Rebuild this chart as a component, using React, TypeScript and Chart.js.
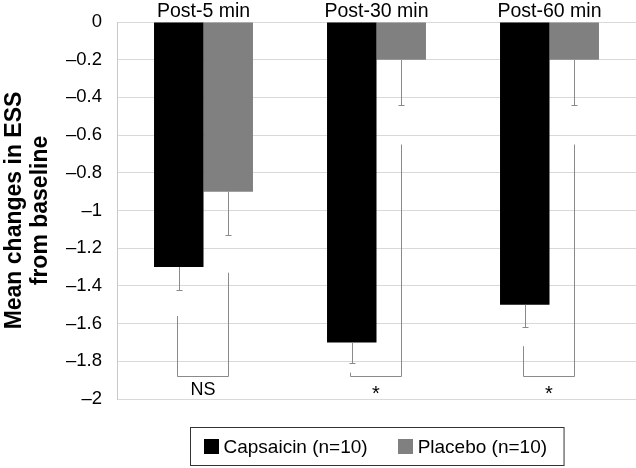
import React, { useEffect, useRef } from 'react';
import { Chart, registerables } from 'chart.js';

Chart.register(...registerables);

const categories = ['Post-5 min', 'Post-30 min', 'Post-60 min'];
const seriesNames = ['Capsaicin (n=10)', 'Placebo (n=10)'];
const seriesColors = ['#000000', '#808080'];
const capsaicinMeans = [-1.3, -1.7, -1.5];
const placeboMeans = [-0.9, -0.2, -0.2];
const capsaicinErrors = [0.12, 0.11, 0.12];
const placeboErrors = [0.23, 0.24, 0.24];
const bracketLeftTop = [-1.56, -1.86, -1.72];
const bracketRightTop = [-1.33, -0.65, -0.65];
const bracketBottom = [-1.88, -1.88, -1.88];
const bracketLabels = ['NS', '*', '*'];
const bracketLabelValues = [-1.955, -1.975, -1.975];
const yMin = -2;
const yMax = 0;
const yStep = 0.2;
const yTitle = ['Mean changes in ESS', 'from baseline'];

const FONT = "'Liberation Sans', Arial, sans-serif";

const formatTick = (v: number) => {
  const r = Math.round(v * 10) / 10;
  if (r === 0) return '0';
  return (r < 0 ? '\u2013' : '') + String(Math.abs(r));
};

const annotationPlugin = {
  id: 'annotations',
  afterDatasetsDraw(chart: any) {
    const ctx = chart.ctx;
    const ys = chart.scales.y;
    const metas = [chart.getDatasetMeta(0), chart.getDatasetMeta(1)];
    const means = [capsaicinMeans, placeboMeans];
    const errs = [capsaicinErrors, placeboErrors];
    ctx.save();
    ctx.strokeStyle = '#8a8a8a';
    ctx.lineWidth = 1;
    // error bars (downward)
    for (let d = 0; d < 2; d++) {
      for (let j = 0; j < categories.length; j++) {
        const x = Math.round(metas[d].data[j].x) + 0.5;
        const y1 = ys.getPixelForValue(means[d][j]);
        const y2 = Math.round(ys.getPixelForValue(means[d][j] - errs[d][j])) + 0.5;
        ctx.beginPath();
        ctx.moveTo(x, y1);
        ctx.lineTo(x, y2);
        ctx.moveTo(x - 3, y2);
        ctx.lineTo(x + 3, y2);
        ctx.stroke();
      }
    }
    // significance brackets
    for (let j = 0; j < categories.length; j++) {
      const xl = Math.round(metas[0].data[j].x) - 1.5;
      const xr = Math.round(metas[1].data[j].x) + 0.5;
      const yb = Math.round(ys.getPixelForValue(bracketBottom[j])) + 0.5;
      ctx.beginPath();
      ctx.moveTo(xl, ys.getPixelForValue(bracketLeftTop[j]));
      ctx.lineTo(xl, yb);
      ctx.lineTo(xr, yb);
      ctx.lineTo(xr, ys.getPixelForValue(bracketRightTop[j]));
      ctx.stroke();
      ctx.fillStyle = '#000';
      ctx.textAlign = 'center';
      ctx.textBaseline = 'middle';
      const isStar = bracketLabels[j] === '*';
      ctx.font = (isStar ? '20px ' : '18px ') + FONT;
      ctx.fillText(bracketLabels[j], (xl + xr) / 2, ys.getPixelForValue(bracketLabelValues[j]));
    }
    ctx.restore();
  },
  afterDraw(chart: any) {
    // legend
    const ctx = chart.ctx;
    const area = chart.chartArea;
    ctx.save();
    ctx.font = '19px ' + FONT;
    const pad = 13, box = 15, gap = 5, itemGap = 30;
    const widths = seriesNames.map((s) => ctx.measureText(s).width);
    const total = pad * 2 + widths.reduce((a, w) => a + box + gap + w, 0) + itemGap * (seriesNames.length - 1);
    const cx = (area.left + area.right) / 2;
    const left = Math.round(cx - total / 2) - 1.5;
    const top = Math.round(area.bottom) + 28.5;
    const h = 38;
    ctx.strokeStyle = '#333';
    ctx.lineWidth = 1;
    ctx.strokeRect(left, top, total + 4, h);
    let x = left + pad;
    const cy = top + h / 2;
    ctx.textAlign = 'left';
    ctx.textBaseline = 'middle';
    seriesNames.forEach((s, i) => {
      ctx.fillStyle = seriesColors[i];
      ctx.fillRect(Math.round(x), Math.round(cy - box / 2), box, box);
      x += box + gap;
      ctx.fillStyle = '#000';
      ctx.fillText(s, x, cy + 1);
      x += widths[i] + itemGap;
    });
    ctx.restore();
  },
};

export default function App() {
  const ref = useRef<HTMLCanvasElement | null>(null);
  useEffect(() => {
    document.body.style.margin = '0';
    const canvas = ref.current!;
    const chart = new Chart(canvas, {
      type: 'bar',
      data: {
        labels: categories,
        datasets: [
          {
            label: seriesNames[0],
            data: capsaicinMeans,
            backgroundColor: seriesColors[0],
            borderWidth: 0,
            categoryPercentage: 0.572,
            barPercentage: 1,
          },
          {
            label: seriesNames[1],
            data: placeboMeans,
            backgroundColor: seriesColors[1],
            borderWidth: 0,
            categoryPercentage: 0.572,
            barPercentage: 1,
          },
        ],
      },
      options: {
        responsive: false,
        animation: false,
        devicePixelRatio: 1,
        layout: { padding: 0 },
        plugins: {
          legend: { display: false },
          tooltip: { enabled: false },
        },
        scales: {
          x: {
            type: 'category',
            position: 'top',
            grid: { display: false, drawTicks: false },
            border: { display: false },
            ticks: {
              color: '#000',
              font: { family: FONT, size: 19.5 },
              padding: -1,
              maxRotation: 0,
            },
            afterFit: (s: any) => {
              s.height = 22;
            },
          },
          x2: {
            type: 'category',
            position: 'bottom',
            grid: { display: false, drawTicks: false },
            border: { display: false },
            ticks: { display: false },
            afterFit: (s: any) => {
              s.height = 69;
            },
          },
          y: {
            min: yMin,
            max: yMax,
            ticks: {
              stepSize: yStep,
              color: '#000',
              font: { family: FONT, size: 18.5 },
              padding: 15,
              callback: (v: any) => formatTick(Number(v)),
            },
            grid: { color: '#d9d9d9', drawTicks: false, lineWidth: 1 },
            border: { display: true, color: '#c8c8c8' },
            title: {
              display: true,
              text: yTitle,
              color: '#000',
              font: { family: FONT, size: 23, weight: 'bold', lineHeight: 1.15 },
              padding: { top: 1, bottom: 0 },
            },
            afterFit: (s: any) => {
              s.width = 117;
              s.paddingTop = 0;
              s.paddingBottom = 0;
            },
          },
        },
      },
      plugins: [annotationPlugin],
    } as any);
    return () => chart.destroy();
  }, []);
  return (
    <div style={{ width: 636, height: 468 }}>
      <canvas ref={ref} width={636} height={468} />
    </div>
  );
}
